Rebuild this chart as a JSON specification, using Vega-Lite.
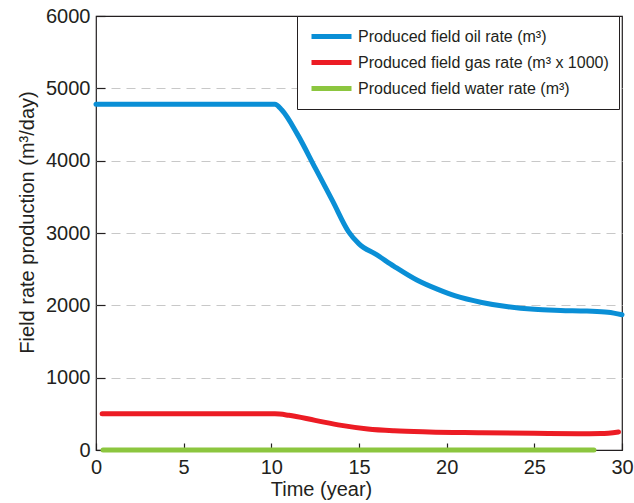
{
  "$schema": "https://vega.github.io/schema/vega-lite/v6.json",
  "width": 526,
  "height": 434,
  "autosize": "none",
  "padding": {"left": 96, "top": 16, "right": 12, "bottom": 53},
  "background": "white",
  "config": {
    "font": "Liberation Sans",
    "view": {"stroke": "#231f20", "strokeWidth": 1.2}
  },
  "data": {
    "values": [
      {"t": 0, "v": 4780, "s": "oil"},
      {"t": 10.2, "v": 4780, "s": "oil"},
      {"t": 10.6, "v": 4700, "s": "oil"},
      {"t": 11.5, "v": 4360, "s": "oil"},
      {"t": 12.5, "v": 3900, "s": "oil"},
      {"t": 13.5, "v": 3440, "s": "oil"},
      {"t": 14.4, "v": 3020, "s": "oil"},
      {"t": 15.0, "v": 2850, "s": "oil"},
      {"t": 16.0, "v": 2700, "s": "oil"},
      {"t": 17.0, "v": 2540, "s": "oil"},
      {"t": 18.3, "v": 2350, "s": "oil"},
      {"t": 19.5, "v": 2220, "s": "oil"},
      {"t": 20.5, "v": 2130, "s": "oil"},
      {"t": 22.0, "v": 2040, "s": "oil"},
      {"t": 23.5, "v": 1980, "s": "oil"},
      {"t": 25.0, "v": 1945, "s": "oil"},
      {"t": 26.5, "v": 1930, "s": "oil"},
      {"t": 28.0, "v": 1920, "s": "oil"},
      {"t": 29.2, "v": 1905, "s": "oil"},
      {"t": 30.0, "v": 1870, "s": "oil"},
      {"t": 0.35, "v": 500, "s": "gas"},
      {"t": 10.2, "v": 500, "s": "gas"},
      {"t": 11.0, "v": 480, "s": "gas"},
      {"t": 12.5, "v": 410, "s": "gas"},
      {"t": 14.0, "v": 340, "s": "gas"},
      {"t": 15.5, "v": 290, "s": "gas"},
      {"t": 17.0, "v": 265, "s": "gas"},
      {"t": 19.0, "v": 250, "s": "gas"},
      {"t": 22.0, "v": 240, "s": "gas"},
      {"t": 25.0, "v": 230, "s": "gas"},
      {"t": 27.5, "v": 225, "s": "gas"},
      {"t": 28.8, "v": 228, "s": "gas"},
      {"t": 29.8, "v": 250, "s": "gas"},
      {"t": 0.4, "v": 0, "s": "water"},
      {"t": 28.4, "v": 0, "s": "water"}
    ]
  },
  "mark": {"type": "line", "strokeWidth": 5, "strokeCap": "round", "interpolate": "monotone", "clip": false},
  "encoding": {
    "x": {
      "field": "t",
      "type": "quantitative",
      "scale": {"domain": [0, 30], "nice": false},
      "axis": {
        "title": "Time (year)",
        "values": [0, 5, 10, 15, 20, 25, 30],
        "grid": false,
        "domain": false,
        "offset": -7,
        "tickColor": "#231f20",
        "tickWidth": 1.2,
        "tickSize": 7,
        "labelPadding": 7,
        "labelFontSize": 20,
        "labelColor": "#231f20",
        "labelFlush": false,
        "titleFontSize": 20,
        "titleFontWeight": "normal",
        "titleColor": "#231f20",
        "titlePadding": 2,
        "titleX": 225
      }
    },
    "y": {
      "field": "v",
      "type": "quantitative",
      "scale": {"domain": [0, 6000], "nice": false},
      "axis": {
        "title": "Field rate production (m³/day)",
        "values": [0, 1000, 2000, 3000, 4000, 5000, 6000],
        "format": "d",
        "grid": true,
        "gridColor": {"condition": {"test": "datum.value == 0 || datum.value == 6000", "value": "transparent"}, "value": "#c8c8c8"},
        "gridDash": [9, 6],
        "gridWidth": 1.2,
        "domain": false,
        "offset": -9,
        "tickColor": "#231f20",
        "tickWidth": 1.2,
        "tickSize": 9,
        "labelPadding": 6,
        "labelFontSize": 20,
        "labelColor": "#231f20",
        "labelFlush": false,
        "titleFontSize": 20,
        "titleFontWeight": "normal",
        "titleColor": "#231f20",
        "titlePadding": 8,
        "titleY": 206
      }
    },
    "color": {
      "field": "s",
      "type": "nominal",
      "scale": {
        "domain": ["oil", "gas", "water"],
        "range": ["#0a8fd6", "#ec1c24", "#8cc63f"]
      },
      "legend": {
        "title": null,
        "orient": "none",
        "legendX": 201,
        "legendY": 0,
        "labelExpr": "datum.value == 'oil' ? 'Produced field oil rate (m³)' : datum.value == 'gas' ? 'Produced field gas rate (m³ x 1000)' : 'Produced field water rate (m³)'",
        "symbolType": "M-2.5,0H2.5",
        "symbolSize": 256,
        "symbolStrokeWidth": 5,
        "symbolOffset": 14,
        "labelFontSize": 16,
        "labelColor": "#231f20",
        "labelOffset": 16,
        "labelLimit": 400,
        "strokeColor": "#231f20",
        "fillColor": "white",
        "padding": 10,
        "rowPadding": 5
      }
    }
  }
}
